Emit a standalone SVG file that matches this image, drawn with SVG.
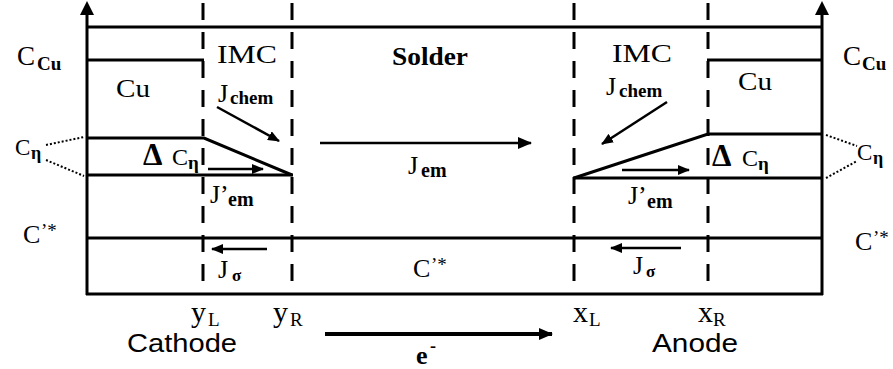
<svg xmlns="http://www.w3.org/2000/svg" width="893" height="369" viewBox="0 0 893 369">
<style>
.ln{stroke:#000;stroke-width:3;fill:none}
.ds{stroke:#000;stroke-width:3;fill:none;stroke-dasharray:17 12}
.dt{stroke:#000;stroke-width:2;fill:none;stroke-dasharray:2 2}
.ar{stroke:#000;stroke-width:2.5;fill:none}
.s{font-family:"Liberation Serif","Times New Roman",serif;fill:#000}
.b{font-weight:bold}
.a{font-family:"Liberation Sans",Arial,sans-serif;fill:#000}
</style>
<defs>
<marker id="ah" markerUnits="userSpaceOnUse" markerWidth="14" markerHeight="12" refX="13" refY="6" orient="auto">
<path d="M0,0 L14,6 L0,12 Z" fill="#000"/>
</marker>
<marker id="ahs" markerUnits="userSpaceOnUse" markerWidth="12" markerHeight="10" refX="11" refY="5" orient="auto">
<path d="M0,0 L12,5 L0,10 Z" fill="#000"/>
</marker>
</defs>
<rect width="893" height="369" fill="#fff"/>
<g id="frame">
<line class="ln" x1="87" y1="295" x2="87" y2="12"/>
<path d="M80,15 L87,1 L94,15 Z" fill="#000"/>
<line class="ln" x1="822" y1="295" x2="822" y2="12"/>
<path d="M815,15 L822,1 L829,15 Z" fill="#000"/>
<line class="ln" x1="86" y1="27" x2="822" y2="27"/>
<line class="ln" x1="86" y1="294" x2="823" y2="294"/>
<line class="ln" x1="87" y1="238" x2="822" y2="238"/>
</g>
<g id="interfaces">
<line class="ds" x1="203" y1="3" x2="203" y2="294"/>
<line class="ds" x1="292" y1="3" x2="292" y2="294"/>
<line class="ds" x1="574" y1="3" x2="574" y2="294"/>
<line class="ds" x1="708" y1="3" x2="708" y2="294"/>
</g>
<g id="cathode-profile">
<line class="ln" x1="87" y1="60" x2="204" y2="60"/>
<polyline class="ln" points="87,138 204,138 292,175"/>
<line class="ln" x1="87" y1="175" x2="293" y2="175"/>
</g>
<g id="anode-profile">
<line class="ln" x1="707" y1="60" x2="822" y2="60"/>
<polyline class="ln" points="822,134 708,134 574,178"/>
<line class="ln" x1="573" y1="178" x2="822" y2="178"/>
</g>
<g id="dotted">
<line class="dt" x1="46" y1="145" x2="84" y2="137"/>
<line class="dt" x1="46" y1="160" x2="84" y2="176"/>
<line class="dt" x1="826" y1="135" x2="857" y2="146"/>
<line class="dt" x1="826" y1="178" x2="857" y2="161"/>
</g>
<g id="connectors">
<line class="ar" x1="217" y1="107" x2="279" y2="141" marker-end="url(#ahs)"/>
<line class="ar" x1="667" y1="102" x2="602" y2="144" marker-end="url(#ahs)"/>
<line class="ar" x1="320" y1="143" x2="531" y2="143" marker-end="url(#ah)"/>
<line class="ar" x1="208" y1="169" x2="263" y2="169" marker-end="url(#ahs)"/>
<line class="ar" x1="622" y1="170" x2="689" y2="170" marker-end="url(#ahs)"/>
<line class="ar" x1="267" y1="249" x2="212" y2="249" marker-end="url(#ahs)"/>
<line class="ar" x1="681" y1="248" x2="611" y2="248" marker-end="url(#ahs)"/>
<line stroke="#000" stroke-width="4" x1="325" y1="334" x2="552" y2="334" marker-end="url(#ah)"/>
</g>
<g id="labels">
<text class="s" x="17" y="65" font-size="27">C<tspan class="b" x="37" y="70" font-size="19">Cu</tspan></text>
<text class="s" x="843" y="65" font-size="27">C<tspan class="b" x="862" y="70" font-size="19">Cu</tspan></text>
<text class="s" x="217" y="63" font-size="26" textLength="60" lengthAdjust="spacingAndGlyphs">IMC</text>
<text class="s" x="612" y="62" font-size="26" textLength="60" lengthAdjust="spacingAndGlyphs">IMC</text>
<text class="s b" x="392" y="65" font-size="26" textLength="76" lengthAdjust="spacingAndGlyphs">Solder</text>
<text class="s" x="116" y="97" font-size="26" textLength="34" lengthAdjust="spacingAndGlyphs">Cu</text>
<text class="s" x="738" y="90" font-size="26" textLength="34" lengthAdjust="spacingAndGlyphs">Cu</text>
<text class="s" x="218" y="102" font-size="26">J<tspan class="b" x="230" y="104" font-size="19">chem</tspan></text>
<text class="s" x="606" y="95" font-size="26">J<tspan class="b" x="619" y="97" font-size="19">chem</tspan></text>
<text class="s b" x="143" y="165" font-size="31">Δ<tspan font-weight="normal" x="172" y="165" font-size="24">C</tspan><tspan x="188" y="169" font-size="19">η</tspan></text>
<text class="s b" x="712" y="166" font-size="31">Δ<tspan font-weight="normal" x="742" y="166" font-size="24">C</tspan><tspan x="758" y="170" font-size="19">η</tspan></text>
<text class="s" x="15" y="155" font-size="23">C<tspan class="b" x="31" y="159" font-size="18">η</tspan></text>
<text class="s" x="857" y="160" font-size="23">C<tspan class="b" x="873" y="164" font-size="18">η</tspan></text>
<text class="s" x="210" y="203" font-size="26">J’<tspan class="b" x="228" y="206" font-size="20">em</tspan></text>
<text class="s" x="628" y="204" font-size="26">J’<tspan class="b" x="647" y="208" font-size="20">em</tspan></text>
<text class="s" x="408" y="174" font-size="26">J<tspan class="b" x="421" y="177" font-size="20">em</tspan></text>
<text class="s" x="23" y="243" font-size="26">C<tspan x="41" y="237" font-size="19">’*</tspan></text>
<text class="s" x="855" y="250" font-size="26">C<tspan x="873" y="244" font-size="19">’*</tspan></text>
<text class="s" x="413" y="277" font-size="26">C<tspan x="431" y="271" font-size="19">’*</tspan></text>
<text class="s" x="218" y="278" font-size="26">J<tspan class="b" x="232" y="281" font-size="17">σ</tspan></text>
<text class="s" x="633" y="274" font-size="26">J<tspan class="b" x="646" y="277" font-size="17">σ</tspan></text>
<text class="s" x="191" y="322" font-size="30">y<tspan x="208" y="326" font-size="19">L</tspan></text>
<text class="s" x="273" y="322" font-size="30">y<tspan x="290" y="326" font-size="19">R</tspan></text>
<text class="s" x="573" y="322" font-size="30">x<tspan x="589" y="326" font-size="19">L</tspan></text>
<text class="s" x="698" y="322" font-size="30">x<tspan x="713" y="326" font-size="19">R</tspan></text>
<text class="a" x="127" y="352" font-size="26" textLength="110" lengthAdjust="spacingAndGlyphs">Cathode</text>
<text class="a" x="652" y="352" font-size="26" textLength="86" lengthAdjust="spacingAndGlyphs">Anode</text>
<text class="s b" x="416" y="364" font-size="26">e<tspan x="430" y="352" font-size="18">-</tspan></text>
</g>
</svg>
